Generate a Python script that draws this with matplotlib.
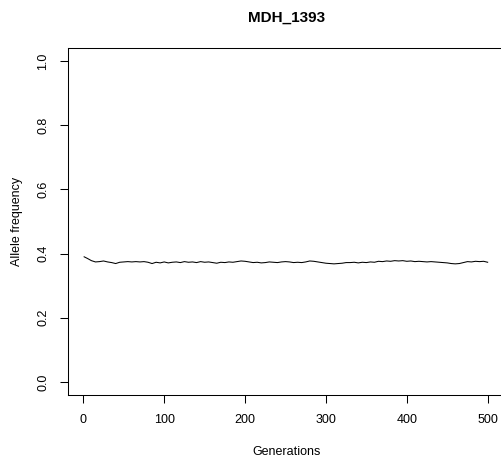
import matplotlib
matplotlib.use("Agg")
import matplotlib.pyplot as plt

plt.rcParams["font.family"] = ["Liberation Sans", "DejaVu Sans"]

generations = [1] + list(range(5, 501, 5))
freq = [0.390, 0.385, 0.378, 0.374, 0.375, 0.377, 0.374, 0.372, 0.369, 0.373,
        0.374, 0.375, 0.374, 0.375, 0.374, 0.375, 0.373, 0.369, 0.373, 0.371,
        0.374, 0.371, 0.373, 0.374, 0.372, 0.375, 0.373, 0.374, 0.372, 0.375,
        0.373, 0.374, 0.372, 0.370, 0.373, 0.372, 0.374, 0.373, 0.375, 0.377,
        0.376, 0.374, 0.372, 0.373, 0.371, 0.372, 0.374, 0.373, 0.372, 0.374,
        0.375, 0.374, 0.372, 0.373, 0.372, 0.374, 0.377, 0.376, 0.374, 0.372,
        0.370, 0.369, 0.368, 0.369, 0.370, 0.372, 0.372, 0.373, 0.371, 0.373,
        0.372, 0.374, 0.373, 0.376, 0.375, 0.377, 0.376, 0.378, 0.377, 0.378,
        0.376, 0.377, 0.375, 0.376, 0.375, 0.374, 0.375, 0.374, 0.373, 0.372,
        0.371, 0.369, 0.368, 0.369, 0.372, 0.375, 0.374, 0.376, 0.375, 0.376,
        0.373]
x_ticks = [0, 100, 200, 300, 400, 500]
y_ticks = [0.0, 0.2, 0.4, 0.6, 0.8, 1.0]
y_labels = ["0.0", "0.2", "0.4", "0.6", "0.8", "1.0"]

W, H = 502, 463
fig = plt.figure(figsize=(W / 100, H / 100), dpi=100)
left, right, top, bottom = 68.0, 503.8, 48.2, 394.8
ax = fig.add_axes([left / W, 1 - bottom / H, (right - left) / W, (bottom - top) / H])

ax.plot(generations, freq, color="black", linewidth=0.75)
ax.set_xlim(1 - 0.04 * 499, 500 + 0.04 * 499)
ax.set_ylim(-0.04, 1.04)

ax.set_xticks(x_ticks)
ax.set_xticklabels([str(v) for v in x_ticks])
ax.set_yticks(y_ticks)
ax.set_yticklabels(y_labels, rotation=90, va="center")
ax.tick_params(length=5.5, width=0.75, labelsize=9, pad=8, color="black")

for s in ax.spines.values():
  s.set_linewidth(0.75)

fig.text(286.7 / W, 1 - 17.5 / H, "MDH_1393", ha="center", va="center",
         fontsize=11, fontweight="bold")
fig.text(286.7 / W, 1 - 451.7 / H, "Generations", ha="center", va="center", fontsize=9)
fig.text(17 / W, 1 - 221.5 / H, "Allele frequency", ha="center", va="center",
         rotation=90, fontsize=9)

fig.savefig("out.png", dpi=100)
